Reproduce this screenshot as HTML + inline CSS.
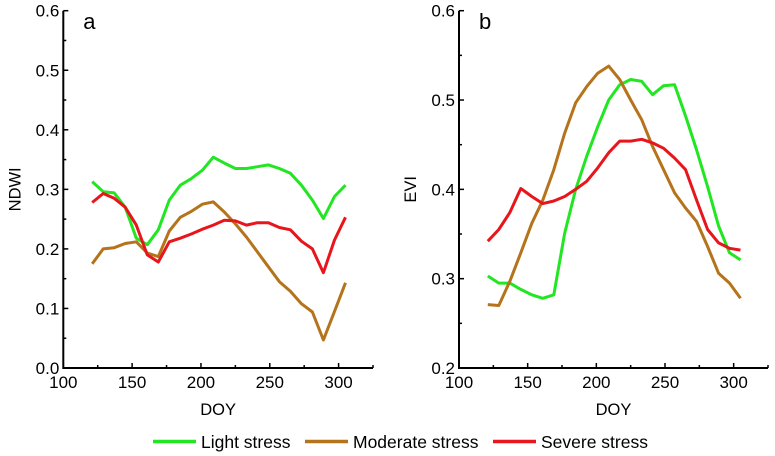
<!DOCTYPE html>
<html><head><meta charset="utf-8"><style>
body{margin:0;background:#fff;}
svg{display:block;font-family:"Liberation Sans",Arial,sans-serif;}
</style></head><body>
<svg id="c" width="775" height="456" viewBox="0 0 775 456"></svg>
<script>
const doy=[121,129,137,145,153,161,169,177,185,193,201,209,217,225,233,241,249,257,265,273,281,289,297,305];
const ndwiLight=[0.313,0.296,0.294,0.27,0.218,0.207,0.232,0.282,0.307,0.318,0.332,0.354,0.344,0.335,0.335,0.338,0.341,0.335,0.327,0.307,0.282,0.251,0.288,0.307];
const ndwiModerate=[0.175,0.2,0.202,0.209,0.212,0.193,0.187,0.23,0.253,0.263,0.275,0.279,0.262,0.242,0.22,0.195,0.17,0.145,0.129,0.108,0.094,0.047,0.095,0.143];
const ndwiSevere=[0.278,0.293,0.285,0.27,0.24,0.19,0.178,0.212,0.218,0.225,0.233,0.24,0.248,0.247,0.24,0.244,0.244,0.236,0.232,0.213,0.2,0.16,0.215,0.253];
const eviLight=[0.303,0.295,0.295,0.288,0.282,0.278,0.282,0.351,0.4,0.437,0.47,0.5,0.517,0.523,0.521,0.506,0.516,0.517,0.482,0.444,0.403,0.359,0.329,0.321];
const eviModerate=[0.271,0.27,0.297,0.329,0.362,0.388,0.422,0.463,0.497,0.515,0.53,0.538,0.523,0.5,0.478,0.448,0.422,0.396,0.379,0.364,0.336,0.306,0.295,0.278];
const eviSevere=[0.342,0.355,0.374,0.401,0.392,0.384,0.387,0.392,0.4,0.409,0.424,0.441,0.454,0.454,0.456,0.452,0.446,0.435,0.422,0.388,0.355,0.34,0.334,0.332];
const xTicks=[100,150,200,250,300];
const yTicksA=[0.0,0.1,0.2,0.3,0.4,0.5,0.6];
const yTicksB=[0.2,0.3,0.4,0.5,0.6];
const colors={light:"#22e622",moderate:"#b5731b",severe:"#e8161c"};
const NS="http://www.w3.org/2000/svg";
const svg=document.getElementById('c');
function mk(tag,attrs,parent){const e=document.createElementNS(NS,tag);for(const k in attrs)e.setAttribute(k,attrs[k]);(parent||svg).appendChild(e);return e;}
function panel(key,left,right,yMin,yMax,yTicks,yLabel,letter,series){
  const top=10.7,bottom=368,xMin=100,xMax=325;
  const g=mk('g',{});
  
  
  const X=v=>left+(v-xMin)/(xMax-xMin)*(right-left);
  const Y=v=>bottom-(v-yMin)/(yMax-yMin)*(bottom-top);
  const ax=mk('path',{d:`M${left},${top}V${bottom}H${right}`,fill:'none',stroke:'#000','stroke-width':2},g);
  
  
  for(let v=xMin;v<=xMax+0.01;v+=25){const major=v%50===0;mk('line',{x1:X(v),x2:X(v),y1:bottom,y2:bottom-(major?5:3),stroke:'#000','stroke-width':1.5},g);}
  xTicks.forEach(v=>{const t=mk('text',{x:X(v),y:bottom+20,'font-size':17,'text-anchor':'middle'},g);t.textContent=v;
    
    });
  for(let v=yMin;v<=yMax+1e-6;v+=0.05){const major=Math.abs(Math.round(v*10)-v*10)<1e-6;mk('line',{x1:left,x2:left+(major?5:3),y1:Y(v),y2:Y(v),stroke:'#000','stroke-width':1.5},g);}
  yTicks.forEach(v=>{const t=mk('text',{x:left-4,y:Y(v)+6,'font-size':17,'text-anchor':'end'},g);t.textContent=v.toFixed(1);
    
    });
  const xl=mk('text',{x:(left+right)/2,y:415,'font-size':16.5,'text-anchor':'middle'},g);xl.textContent='DOY';
  
  
  const yl=mk('text',{transform:`translate(${left-43},${(top+bottom)/2}) rotate(-90)`,'font-size':16.5,'text-anchor':'middle'},g);yl.textContent=yLabel;
  
  
  const lt=mk('text',{x:left+20,y:29,'font-size':22},g);lt.textContent=letter;
  
  
  series.forEach(([name,vals])=>{
    const d=vals.map((v,i)=>(i?'L':'M')+X(doy[i]).toFixed(1)+','+Y(v).toFixed(1)).join('');
    const p=mk('path',{d,fill:'none',stroke:colors[name],'stroke-width':3,'stroke-linejoin':'round'},g);
    
    
  });
}
panel('a',63.3,373,0,0.6,yTicksA,'NDWI','a',[['light',ndwiLight],['moderate',ndwiModerate],['severe',ndwiSevere]]);
panel('b',459,768,0.2,0.6,yTicksB,'EVI','b',[['light',eviLight],['moderate',eviModerate],['severe',eviSevere]]);
const legend=[['light','Light stress',153],['moderate','Moderate stress',305],['severe','Severe stress',493]];
const lg=mk('g',{});


legend.forEach(([k,label,x])=>{
  const e=mk('g',{},lg);
  
  
  mk('line',{x1:x,x2:x+43,y1:441.5,y2:441.5,stroke:colors[k],'stroke-width':3.5},e);
  const t=mk('text',{x:x+48,y:448,'font-size':17.5},e);t.textContent=label;
});
</script>
</body></html>
